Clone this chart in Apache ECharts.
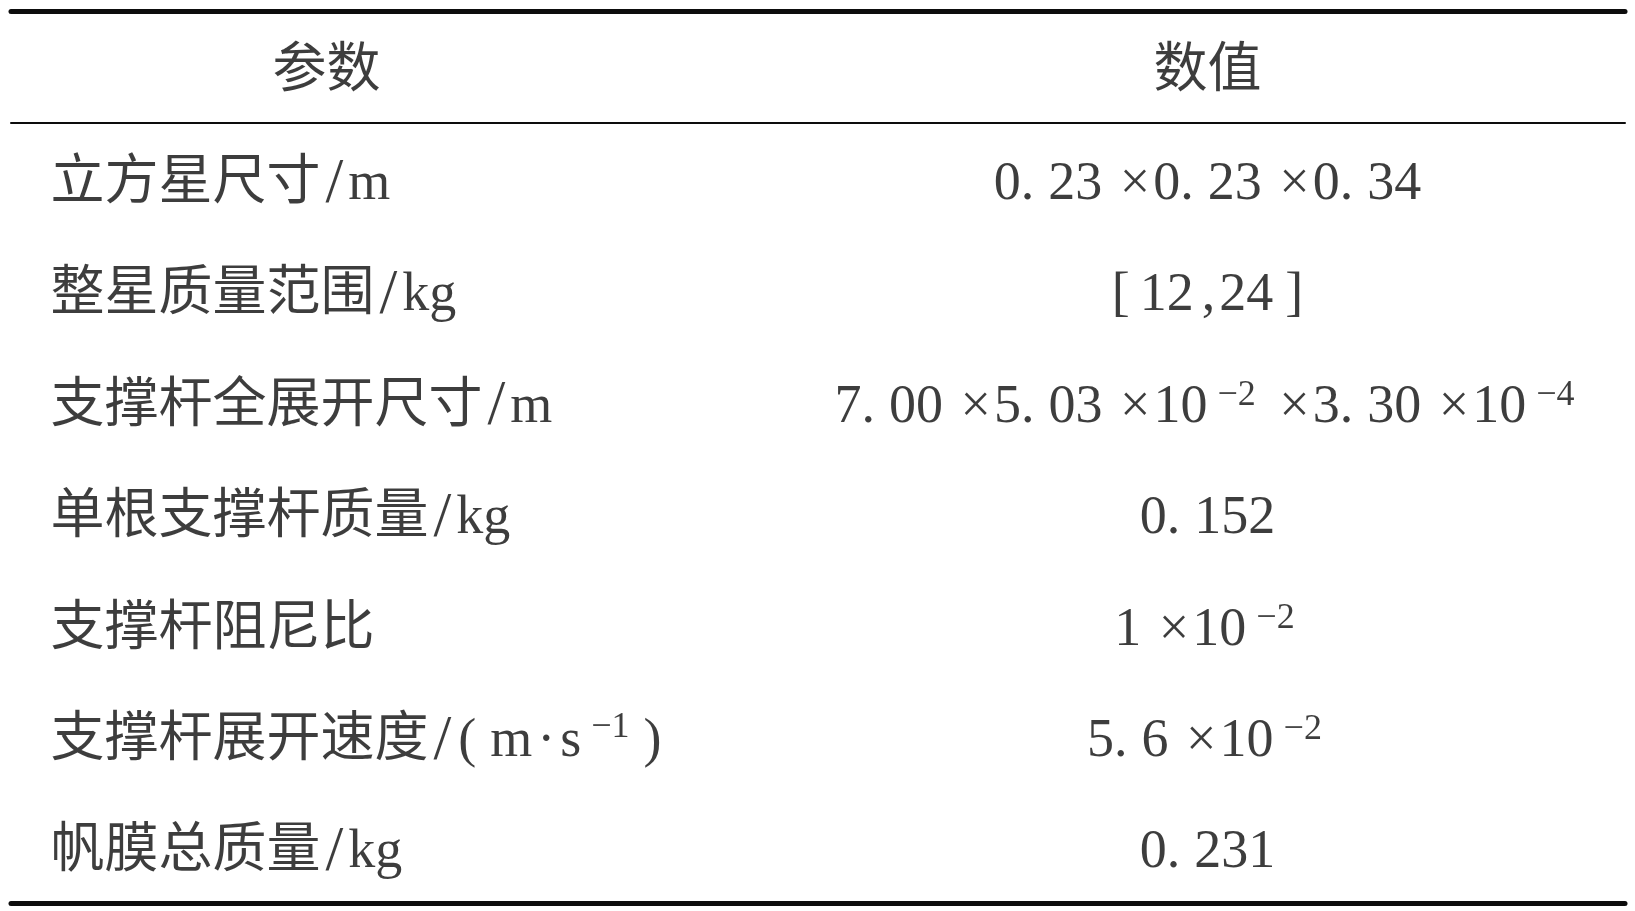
<!DOCTYPE html>
<html>
<head>
<meta charset="utf-8">
<script src="https://cdn.jsdelivr.net/npm/echarts@6/dist/echarts.min.js"></script>
<style>html,body{margin:0;padding:0;background:#fff;}#c{width:1635px;height:911px;}</style>
</head>
<body>
<div id="c"></div>
<script>
const columns = ['参数', '数值'];
const params = [
  '立方星尺寸/m',
  '整星质量范围/kg',
  '支撑杆全展开尺寸/m',
  '单根支撑杆质量/kg',
  '支撑杆阻尼比',
  '支撑杆展开速度/(m·s{sup|−1})',
  '帆膜总质量/kg'
];
const values = [
  '0.23 ×0.23 ×0.34',
  '[12,24]',
  '7.00 ×5.03 ×10{sup|−2} ×3.30 ×10{sup|−4}',
  '0.152',
  '1 ×10{sup|−2}',
  '5.6 ×10{sup|−2}',
  '0.231'
];

const FONT = '"Liberation Serif", "Noto Sans CJK SC", serif';
const INK = '#0d0d0d';
function st(pad, size) {
  return { fontFamily: FONT, fontSize: size || 54, color: INK, padding: pad };
}
const rich = {
  sup: Object.assign(st([0, 6, 24, 10], 36), { verticalAlign: 'top' }),
  dot: st([0, 14, 0, 0]),
  lb: st([0, 10, 0, 0]),
  rb: st([0, 0, 0, 12]),
  cm: st([0, 4, 0, 8]),
  x: st([0, 3, 0, 4]),
  sl: st([0, 5, 0, 5], 64),
  md: st([0, 5, 0, 5]),
  lp: st([0, 14, 0, 2]),
  rp: st([0, 0, 0, 8])
};
const baseLabel = {
  show: true,
  position: 'inside',
  color: INK,
  fontFamily: FONT,
  fontSize: 54,
  rich: rich
};
// typographic spacing of the source (wide period, spaced brackets, wide slash)
function typeset(s) {
  return s.replace(/\./g, '{dot|.}').replace(/×/g, '{x|×}')
          .replace('[', '{lb|[}').replace(']', '{rb|]}').replace(',', '{cm|,}');
}
function typesetParam(s) {
  return s.replace('/', '{sl|/}').replace('(', '{lp|(}').replace(')', '{rp|)}')
          .replace('·', '{md|·}');
}

const chart = echarts.init(document.getElementById('c'), null, { renderer: 'canvas' });
chart.setOption({
  backgroundColor: '#fff',
  animation: false,
  grid: [
    { left: 11, right: 10, top: 11, height: 112 },
    { left: 11, right: 10, top: 123, bottom: 8 }
  ],
  xAxis: [
    { type: 'category', gridIndex: 0, position: 'top', data: columns,
      axisLine: { show: true, lineStyle: { color: INK, width: 5 } },
      axisTick: { show: false }, axisLabel: { show: false }, splitLine: { show: false } },
    { type: 'category', gridIndex: 0, position: 'bottom', data: columns,
      axisLine: { show: true, lineStyle: { color: INK, width: 2 } },
      axisTick: { show: false }, axisLabel: { show: false }, splitLine: { show: false } },
    { type: 'category', gridIndex: 1, position: 'bottom', data: columns,
      axisLine: { show: true, lineStyle: { color: INK, width: 5 } },
      axisTick: { show: false }, axisLabel: { show: false }, splitLine: { show: false } }
  ],
  yAxis: [
    { type: 'category', gridIndex: 0, data: ['header'], inverse: true, show: false },
    { type: 'category', gridIndex: 1, data: params, inverse: true, show: false }
  ],
  series: [
    {
      type: 'scatter', xAxisIndex: 0, yAxisIndex: 0, symbolSize: 0, silent: true,
      data: columns.map((c, i) => ({
        value: [c, 'header'],
        label: Object.assign({}, baseLabel, { align: 'center', offset: [i === 0 ? -88 : -14, 6], formatter: c })
      }))
    },
    {
      type: 'scatter', xAxisIndex: 2, yAxisIndex: 1, symbolSize: 0, silent: true,
      data: params.map(p => ({
        value: [columns[0], p],
        label: Object.assign({}, baseLabel, { align: 'left', offset: [-364, 6], formatter: typesetParam(p) })
      }))
    },
    {
      type: 'scatter', xAxisIndex: 2, yAxisIndex: 1, symbolSize: 0, silent: true,
      data: params.map((p, i) => ({
        value: [columns[1], p],
        label: Object.assign({}, baseLabel, { align: 'center', offset: [-14, 6], formatter: typeset(values[i]) })
      }))
    }
  ]
});
</script>
</body>
</html>
